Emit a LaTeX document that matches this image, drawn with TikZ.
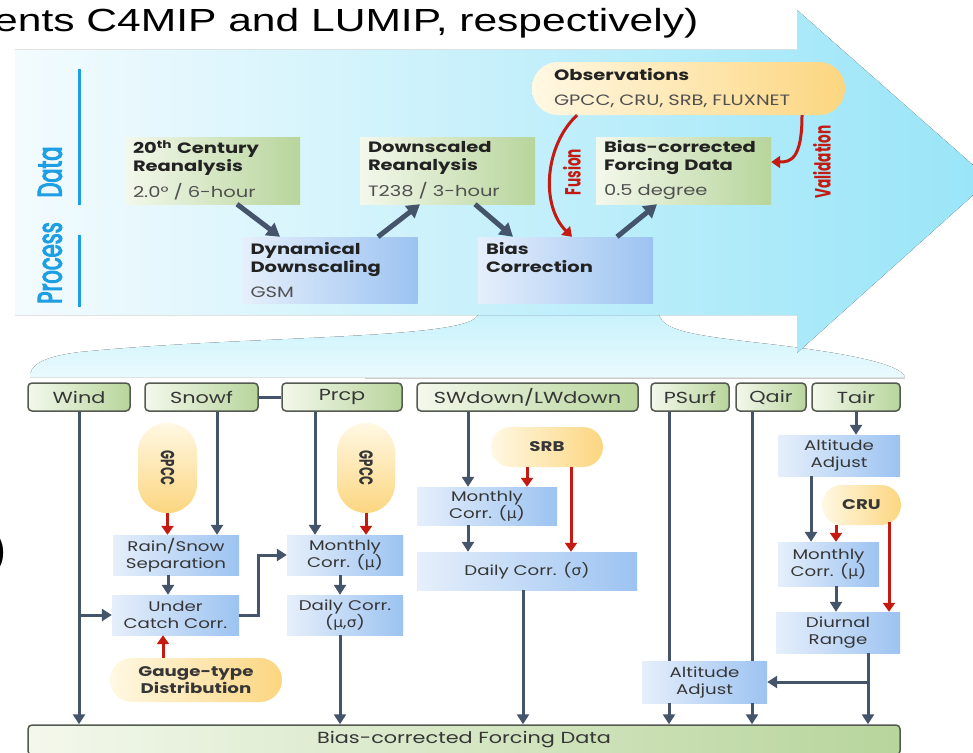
\documentclass[tikz,border=0pt]{standalone}
\usepackage{fontspec}
\usepackage{tikz}
\usetikzlibrary{positioning,arrows.meta}

\newfontfamily\gothic{Poppins}[FakeStretch=1.3]
\newfontfamily\gothicnarrow{Poppins}[FakeStretch=0.62]
\newfontfamily\gothicside{Poppins}[FakeStretch=0.62,FakeBold=3]
\newfontfamily\slidefont{Liberation Sans}[FakeStretch=1.33]
\newfontfamily\greekfont{DejaVu Sans}[FakeStretch=1.1]
\newcommand{\gsym}[1]{{\greekfont #1}}

\definecolor{flowgray}{HTML}{44546A}
\definecolor{obsred}{HTML}{C41A12}
\definecolor{labelblue}{HTML}{1E9FE3}
\definecolor{txtdark}{HTML}{222222}
\definecolor{txtgray}{HTML}{505050}
\definecolor{txtlow}{HTML}{363636}
\definecolor{datapale}{HTML}{F3F8EC}
\definecolor{datagreen}{HTML}{B8D59C}
\definecolor{procpale}{HTML}{E6EFFB}
\definecolor{procblue}{HTML}{9CC3F1}
\definecolor{obspale}{HTML}{FFF8E3}
\definecolor{obsyellow}{HTML}{FCD680}
\definecolor{boxline}{HTML}{555A50}
\definecolor{arrowpale}{HTML}{F3FBFE}
\definecolor{arrowcyan}{HTML}{98E5F8}
\definecolor{funneltop}{HTML}{C8F2FC}
\definecolor{funnelbot}{HTML}{EAFAFE}

\begin{document}
\begin{tikzpicture}[x=1pt, y=-1pt,
  databox/.style={inner xsep=8pt, inner ysep=0pt, minimum height=67pt, text width=159pt,
    align=left, left color=datapale, right color=datagreen, text=txtdark,
    font=\gothic\fontsize{15}{18}\selectfont},
  procbox/.style={databox, minimum height=66pt, left color=procpale, right color=procblue},
  varbox/.style={rounded corners=4pt, draw=boxline, line width=1.5pt, minimum height=28pt,
    inner sep=0pt, left color=datapale, right color=datagreen, text=txtlow,
    font=\gothic\fontsize{16}{18}\selectfont},
  stepbox/.style={inner sep=0pt, align=center, left color=procpale, right color=procblue,
    text=txtlow, font=\gothic\fontsize{14}{17}\selectfont},
  srcpill/.style={inner sep=0pt, align=center, left color=obspale, right color=obsyellow,
    text=txtlow, font=\gothic\bfseries\fontsize{14}{17}\selectfont},
  sidelabel/.style={rotate=90, inner sep=0pt, text=labelblue,
    font=\gothicside\fontsize{34}{34}\selectfont},
  redlabel/.style={rotate=90, inner sep=0pt, text=obsred,
    font=\gothicnarrow\bfseries\fontsize{22}{22}\selectfont},
  sidebar/.style={draw=labelblue, line width=3pt},
  bigflow/.style={draw=flowgray, line width=5pt, -{Triangle[length=13pt,width=15pt]}},
  flow/.style={draw=flowgray, line width=3pt, -{Triangle[length=10pt,width=12pt]}},
  flowline/.style={draw=flowgray, line width=3pt},
  obsflow/.style={draw=obsred, line width=3pt, -{Triangle[length=9pt,width=12pt]}}]
\useasboundingbox (0,0) rectangle (973,752);
\fill[white] (0,0) rectangle (973,752);

\fill[top color=funneltop, bottom color=funnelbot]
  (478,314) .. controls (475,340) and (250,335) .. (80,352)
  .. controls (40,357) and (30,366) .. (30,377) -- (905,377)
  .. controls (900,363) and (840,352) .. (760,343)
  .. controls (690,335) and (662,330) .. (659,314) -- cycle;
\draw[gray!40, line width=0.8pt] (365,378) -- (905,378);
\fill[left color=arrowpale, right color=arrowcyan]
  (15,50) -- (797,50) -- (797,10) -- (990,180) -- (797,353) -- (797,315) -- (15,315) -- cycle;

\node[anchor=base west, inner sep=0pt, font=\slidefont\fontsize{32}{32}\selectfont]
  (slidetext) at (-6,32) {ents C4MIP and LUMIP, respectively)};
\node[anchor=east, inner sep=0pt, font=\slidefont\fontsize{56}{56}\selectfont]
  (bigparen) at (9,553) {)};

\draw[sidebar] (79,69) -- (79,205);
\draw[sidebar] (79,235) -- (79,307);
\node[sidelabel] (datalbl) at (50,172) {Data};
\node[sidelabel] (proclbl) at (50,263) {Process};

\node[databox] (cent) at (212.5,170.5)
  {\textbf{20\textsuperscript{th} Century}\\\textbf{Reanalysis}\\[7pt]{\color{txtgray}2.0° / 6-hour}};
\node[databox] (down) at (447.5,170.5)
  {\textbf{Downscaled}\\\textbf{Reanalysis}\\[7pt]{\color{txtgray}T238 / 3-hour}};
\node[databox] (bcf) at (683.5,170.5)
  {\textbf{Bias-corrected}\\\textbf{Forcing Data}\\[7pt]{\color{txtgray}0.5 degree}};
\node[procbox] (dyn) at (330,270)
  {\textbf{Dynamical}\\\textbf{Downscaling}\\[7pt]{\color{txtgray}GSM}};
\node[procbox] (bias) at (565.5,270)
  {\textbf{Bias}\\\textbf{Correction}\\[7pt]\mbox{}};
\node[databox, rounded corners=26pt, minimum height=53pt, inner xsep=22pt, text width=269pt,
  left color=obspale, right color=obsyellow] (obs) at (688.5,88.5)
  {\textbf{Observations}\\[7pt]{\color{txtgray}\mbox{GPCC, CRU, SRB, FLUXNET}}};

\draw[bigflow] ([xshift=24.5pt]cent.south) -- ([xshift=-50pt]dyn.north);
\draw[bigflow] ([xshift=48pt]dyn.north) -- ([xshift=-27.5pt]down.south);
\draw[bigflow] ([xshift=27.5pt]down.south) -- ([xshift=-52.5pt]bias.north);
\draw[bigflow] ([xshift=51.5pt]bias.north) -- ([xshift=-26.5pt]bcf.south);
\draw[obsflow] ([xshift=-111.5pt]obs.south) .. controls (545,145) and (540,205) .. ([xshift=6.5pt]bias.north);
\draw[obsflow] ([xshift=113.5pt]obs.south) .. controls (802,160) and (790,162) .. ([yshift=8.5pt]bcf.east);
\node[redlabel] (fusionlbl) at (572,172) {Fusion};
\node[redlabel] (validlbl) at (822,162) {Validation};

\node[varbox, minimum width=102pt] (wind) at (79,397) {Wind};
\node[varbox, minimum width=113pt] (snowf) at (201.5,397) {Snowf};
\node[varbox, minimum width=120pt] (prcp) at (342,397) {Prcp};
\node[varbox, minimum width=221pt] (swlw) at (527.5,397) {SWdown/LWdown};
\node[varbox, minimum width=78pt] (psurf) at (690,397) {PSurf};
\node[varbox, minimum width=70pt] (qair) at (771,397) {Qair};
\node[varbox, minimum width=88pt] (tair) at (856,397) {Tair};
\node[varbox, minimum width=872pt, minimum height=30pt, left color=datapale, right color=datagreen]
  (bar) at (464,740) {Bias-corrected Forcing Data};

\node[srcpill, rounded corners=29pt, minimum width=59pt, minimum height=90pt,
  top color=obspale, bottom color=obsyellow] (gpcca) at (167.5,468) {};
\node[rotate=-90, text=txtlow, font=\gothicnarrow\bfseries\fontsize{19}{19}\selectfont] at (gpcca) {GPCC};
\node[srcpill, rounded corners=29pt, minimum width=58pt, minimum height=90pt,
  top color=obspale, bottom color=obsyellow] (gpccb) at (366,468) {};
\node[rotate=-90, text=txtlow, font=\gothicnarrow\bfseries\fontsize{19}{19}\selectfont] at (gpccb) {GPCC};
\node[stepbox, minimum width=126pt, minimum height=40pt] (rainsnow) at (176,555) {Rain/Snow\\Separation};
\node[stepbox, minimum width=127pt, minimum height=40pt] (undercatch) at (175.5,615) {Under\\Catch Corr.};
\node[srcpill, rounded corners=22pt, minimum width=172pt, minimum height=44pt] (gauge) at (196,680)
  {Gauge-type\\Distribution};
\node[stepbox, minimum width=116pt, minimum height=40pt] (pmon) at (345,555) {Monthly\\Corr. (\gsym{μ})};
\node[stepbox, minimum width=116pt, minimum height=40pt] (pday) at (345,615) {Daily Corr.\\(\gsym{μ},\gsym{σ})};

\node[srcpill, rounded corners=20pt, minimum width=112pt, minimum height=40pt] (srb) at (547,447) {SRB};
\node[stepbox, minimum width=140pt, minimum height=38pt] (smon) at (487,506) {Monthly\\Corr. (\gsym{μ})};
\node[stepbox, minimum width=220pt, minimum height=38pt] (sday) at (527,571) {Daily Corr. (\gsym{σ})};

\node[stepbox, minimum width=122pt, minimum height=41pt] (talt) at (839,455.5) {Altitude\\Adjust};
\node[srcpill, rounded corners=20pt, minimum width=79pt, minimum height=40pt] (cru) at (861.5,505) {CRU};
\node[stepbox, minimum width=101pt, minimum height=44pt] (tmon) at (828.5,564) {Monthly\\Corr. (\gsym{μ})};
\node[stepbox, minimum width=124pt, minimum height=41pt] (tdiur) at (838,632.5) {Diurnal\\Range};
\node[stepbox, minimum width=125pt, minimum height=42pt] (palt) at (704.5,682) {Altitude\\Adjust};

\draw[flow] (wind.south) -- (wind.south |- bar.north);
\draw[flow] (wind.south |- undercatch.west) -- (undercatch.west);
\draw[flowline] (snowf.east) -- (prcp.west);
\coordinate (sfx) at ([xshift=15.5pt]snowf.south);
\draw[flow] (sfx) -- (sfx |- rainsnow.north);
\draw[obsflow] (gpcca.south) -- (gpcca.south |- rainsnow.north);
\coordinate (rsx) at ([xshift=-8pt]rainsnow.south);
\draw[flow] (rsx) -- (rsx |- undercatch.north);
\coordinate (gtx) at ([xshift=-33pt]gauge.north);
\draw[obsflow] (gtx) -- (gtx |- undercatch.south);
\draw[flow] (undercatch.east) -- ++(19,0) |- (pmon.west);
\coordinate (prx) at ([xshift=-27pt]prcp.south);
\draw[flow] (prx) -- (prx |- pmon.north);
\draw[obsflow] (gpccb.south) -- (gpccb.south |- pmon.north);
\coordinate (pmx) at ([xshift=-5pt]pmon.south);
\draw[flow] (pmx) -- (pmx |- pday.north);
\draw[flow] (pmx |- pday.south) -- (pmx |- bar.north);

\coordinate (swx) at ([xshift=-19pt]smon.north);
\draw[flow] (swx |- swlw.south) -- (swx);
\coordinate (srba) at ([xshift=-20pt]srb.south);
\draw[obsflow] (srba) -- (srba |- smon.north);
\coordinate (srbb) at ([xshift=24pt]srb.south);
\draw[obsflow] (srbb) -- (srbb |- sday.north);
\coordinate (smx) at ([xshift=-19pt]smon.south);
\draw[flow] (smx) -- (smx |- sday.north);
\coordinate (sdx) at ([xshift=-4pt]sday.south);
\draw[flow] (sdx) -- (sdx |- bar.north);

\draw[flow] (tair.south) -- (tair.south |- talt.north);
\coordinate (tax) at ([xshift=-28pt]talt.south);
\draw[flow] (tax) -- (tax |- tmon.north);
\coordinate (crua) at ([xshift=-25.5pt]cru.south);
\draw[obsflow] (crua) -- (crua |- tmon.north);
\coordinate (crub) at ([xshift=27.5pt,yshift=3pt]cru.south);
\draw[obsflow] (crub) -- (crub |- tdiur.north);
\coordinate (tmx) at ([xshift=7.5pt]tmon.south);
\draw[flow] (tmx) -- (tmx |- tdiur.north);
\coordinate (tdx) at ([xshift=30pt]tdiur.south);
\draw[flow] (tdx) -- (tdx |- bar.north);
\draw[flow] (tdx |- palt.east) -- (palt.east);
\coordinate (psx) at ([xshift=-21pt]psurf.south);
\draw[flowline] (psx) -- (psx |- palt.north);
\draw[flow] (psx |- palt.south) -- (psx |- bar.north);
\coordinate (qax) at ([xshift=-19pt]qair.south);
\draw[flowline] (qax) -- (qax |- palt.north);
\draw[flow] (qax |- palt.south) -- (qax |- bar.north);
\end{tikzpicture}
\end{document}
